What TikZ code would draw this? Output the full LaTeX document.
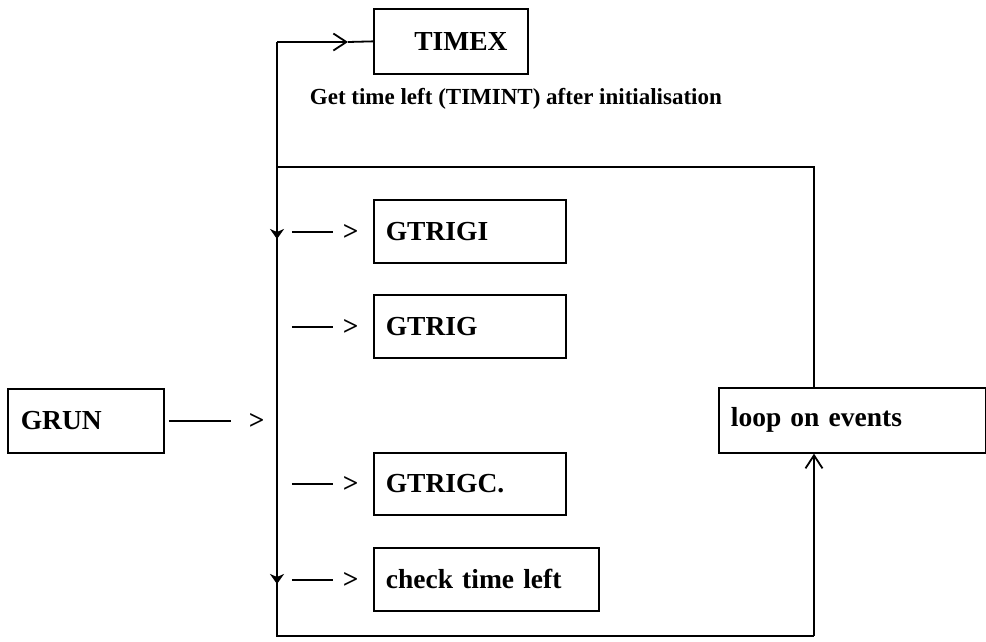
\documentclass[tikz,border=0pt]{standalone}
\usepackage{fontspec}
\setmainfont{Liberation Serif}
\usetikzlibrary{arrows.meta}
\begin{document}
\begin{tikzpicture}[x=1pt, y=-1pt, line width=1.8pt,
  labelfont/.style={font=\fontsize{27.5}{32}\selectfont\bfseries},
  box/.style={draw, labelfont, line width=1.7pt, inner xsep=12pt, inner ysep=0pt,
    align=left, anchor=north west},
  pointer/.style={labelfont, inner sep=0pt, anchor=base west},
  downtip/.style={-{Stealth[length=10pt,width=14pt,inset=3pt]}},
  openbarb/.style={-{Straight Barb[length=13pt,width=17pt,line width=1.8pt]}}
]
\useasboundingbox (0,0) rectangle (986,641);

% boxes
\node[box, align=center, text width=130pt, minimum height=65pt] (timex) at (373,8) {\hspace*{20pt}TIMEX};
\node[box, text width=168pt, minimum height=63pt] (gtrigi) at (373,199) {GTRIGI};
\node[box, text width=168pt, minimum height=63pt] (gtrig)  at (373,294) {GTRIG};
\node[box, text width=168pt, minimum height=62pt] (gtrigc) at (373,452) {GTRIGC.};
\node[box, text width=201pt, minimum height=63pt] (check)  at (373,547) {check time left};
\node[box, inner xsep=13pt, text width=130pt, minimum height=64pt] (grun) at (7,388) {GRUN};
\node[box, text width=243pt, minimum height=65pt] (loop) at (718,387) {loop on events};

% caption
\node[font=\fontsize{23}{28}\selectfont\bfseries, inner sep=0pt, anchor=west] (note) at (309,99)
  {Get time left (TIMINT) after initialisation};

% dash-and-chevron pointers in front of the called routines
\coordinate (px) at (291,0);
\coordinate (pgrx) at (168,0);
\node[pointer] (pgi) at (px |- gtrigi.base) {\rule[0.28em]{41pt}{1.8pt}\hspace{10pt}>};
\node[pointer] (pg)  at (px |- gtrig.base)  {\rule[0.28em]{41pt}{1.8pt}\hspace{10pt}>};
\node[pointer] (pgc) at (px |- gtrigc.base) {\rule[0.28em]{41pt}{1.8pt}\hspace{10pt}>};
\node[pointer] (pck) at (px |- check.base)  {\rule[0.28em]{41pt}{1.8pt}\hspace{10pt}>};
\node[pointer] (pgr) at (pgrx |- grun.base) {\rule[0.28em]{62pt}{1.8pt}\hspace{18pt}>};

% loop frame
\coordinate (tl) at (277,42);
\coordinate (jl) at (277,167);
\coordinate (jr) at (814,167);
\coordinate (bl) at (277,636);
\coordinate (br) at (814,636);
\coordinate (chev) at (348,42);
\coordinate (tipa) at (277,239);
\coordinate (tipb0) at (277,520);
\coordinate (tipb) at (277,584);

\draw[openbarb] (tl) -- (chev);
\draw (chev) -- (timex.west);
\draw (tl) -- (bl) -- (br);
\draw (jl) -- (jr) -- (jr |- loop.north);
\draw[openbarb] (br) -- (br |- loop.south);
\draw[downtip] (jl) -- (tipa);
\draw[downtip] (tipb0) -- (tipb);
\end{tikzpicture}
\end{document}
